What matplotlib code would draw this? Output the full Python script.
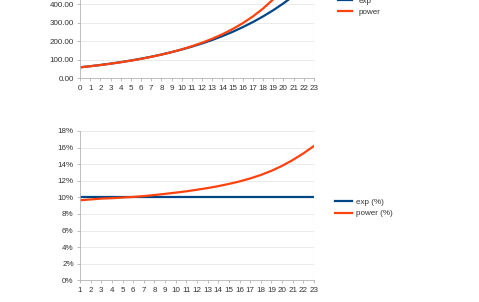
import matplotlib
matplotlib.use("Agg")
import matplotlib.pyplot as plt

plt.rcParams['font.family'] = ['Liberation Sans', 'DejaVu Sans']

x_top = list(range(0, 24))
exp_vals = [60.0, 66.0, 72.6, 79.9, 87.8, 96.6, 106.3, 116.9, 128.6, 141.5, 155.6,
            171.2, 188.3, 207.1, 227.8, 250.6, 275.7, 303.3, 333.6, 366.9, 403.6,
            444.0, 488.4, 537.2]
power_vals = [60.0, 65.8, 72.2, 79.3, 87.2, 95.9, 105.5, 116.2, 128.2, 141.5, 156.5,
              173.3, 192.2, 213.6, 237.8, 265.4, 297.1, 333.5, 375.9, 425.5, 484.2,
              554.5, 639.3, 742.8]

x_bot = list(range(1, 24))
exp_pct = [10.0] * 23
power_pct = [9.65, 9.75, 9.85, 9.9, 9.98, 10.05, 10.15, 10.28, 10.42, 10.57, 10.73,
             10.92, 11.12, 11.35, 11.62, 11.92, 12.28, 12.7, 13.2, 13.8, 14.5, 15.3, 16.2]

W, H = 479, 302
BLUE = '#004586'
ORANGE = '#ff420e'
GRID = '#e6e6e6'
SPINE = '#b3b3b3'
TXT = '#333333'
FS = 5.8

fig = plt.figure(figsize=(W / 100, H / 100), dpi=100)

def style(ax):
    for s in ['top', 'right']:
        ax.spines[s].set_visible(False)
    ax.spines['left'].set_color(SPINE)
    ax.spines['bottom'].set_color(SPINE)
    ax.spines['left'].set_linewidth(0.6)
    ax.spines['bottom'].set_linewidth(0.6)
    ax.tick_params(axis='both', colors=SPINE, labelcolor=TXT, labelsize=FS,
                   length=2.5, width=0.6, pad=2)
    ax.grid(True, axis='y', color=GRID, linewidth=0.6)
    ax.set_axisbelow(True)

# top axes
ax1 = fig.add_axes([80 / W, 1 - 78.5 / H, (314 - 80) / W, 78.5 / H])
ax1.plot(x_top, exp_vals, color=BLUE, lw=1.6, label='exp')
ax1.plot(x_top, power_vals, color=ORANGE, lw=1.6, label='power')
ax1.set_xlim(0, 23)
ax1.set_ylim(0, 421.5)
ax1.set_xticks(x_top)
ax1.set_yticks([0, 100, 200, 300, 400])
ax1.set_yticklabels([f'{v:.2f}' for v in [0, 100, 200, 300, 400]])
style(ax1)
ax1.axvline(23, color=GRID, lw=0.8)
ax1.legend(loc='center left', bbox_to_anchor=(338 / W, 1 - 6.5 / H),
           bbox_transform=fig.transFigure, frameon=False, fontsize=FS,
           handlelength=1.7, handletextpad=0.8, labelspacing=0.45,
           borderpad=0, borderaxespad=0, labelcolor=TXT)

# bottom axes
ax2 = fig.add_axes([80 / W, 1 - 280.3 / H, (314 - 80) / W, (280.3 - 131) / H])
ax2.plot(x_bot, exp_pct, color=BLUE, lw=1.6, label='exp (%)')
ax2.plot(x_bot, power_pct, color=ORANGE, lw=1.6, label='power (%)')
ax2.set_xlim(1, 23)
ax2.set_ylim(0, 18)
ax2.set_xticks(x_bot)
ax2.set_yticks(range(0, 19, 2))
ax2.set_yticklabels([f'{v}%' for v in range(0, 19, 2)])
style(ax2)
ax2.axvline(23, color=GRID, lw=0.8)
ax2.legend(loc='center left', bbox_to_anchor=(335 / W, 1 - 208 / H),
           bbox_transform=fig.transFigure, frameon=False, fontsize=FS,
           handlelength=2.1, handletextpad=0.45, labelspacing=0.45,
           borderpad=0, borderaxespad=0, labelcolor=TXT)

fig.savefig('out.png', dpi=100)
